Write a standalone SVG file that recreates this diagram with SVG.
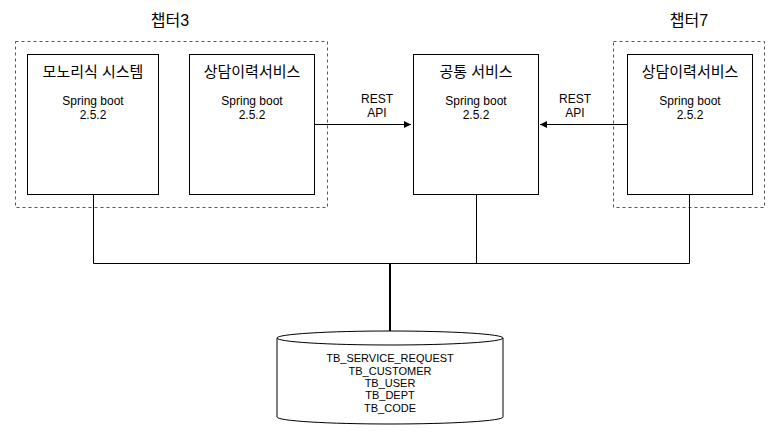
<svg xmlns="http://www.w3.org/2000/svg" width="780" height="446" viewBox="0 0 780 446">
<defs>
<marker id="arr" markerWidth="8" markerHeight="8" refX="7" refY="4" orient="auto" markerUnits="userSpaceOnUse"><path d="M0,0.5 L7,4 L0,7.5 Z" fill="#000"/></marker>
<style>
.grp{fill:none;stroke:#555;stroke-dasharray:3,3;stroke-width:1}
.box{fill:#fff;stroke:#000;stroke-width:1}
.title{font-family:"Liberation Sans","Noto Sans CJK KR",sans-serif;font-size:16px;fill:#000;text-anchor:middle}
.kr{font-family:"Liberation Sans","Noto Sans CJK KR",sans-serif;font-size:15px;fill:#000;text-anchor:middle}
.sm{font-family:"Liberation Sans","Noto Sans CJK KR",sans-serif;font-size:12px;fill:#000;text-anchor:middle}
.db{font-family:"Liberation Sans",sans-serif;font-size:11px;fill:#000;text-anchor:middle}
.ln{fill:none;stroke:#000;stroke-width:1}
</style>
</defs>
<rect width="780" height="446" fill="#fff"/>
<g id="chapter3">
<rect class="grp" x="15.5" y="41.5" width="312" height="166"/>
<text class="title" x="170" y="26">챕터3</text>
</g>
<g id="chapter7">
<rect class="grp" x="613.5" y="41.5" width="151" height="166"/>
<text class="title" x="689" y="26">챕터7</text>
</g>
<g id="connectors">
<path class="ln" d="M314,124.5 H411" marker-end="url(#arr)"/>
<path class="ln" d="M627,124.5 H540" marker-end="url(#arr)"/>
<path class="ln" d="M93.5,194 V263.5 H689.5 V194"/>
<path class="ln" d="M476.5,194 V263.5"/>
<path d="M390,263 V331" stroke="#000" stroke-width="2" fill="none"/>
<text class="sm" x="377" y="103">REST</text>
<text class="sm" x="377" y="117">API</text>
<text class="sm" x="575" y="103">REST</text>
<text class="sm" x="575" y="117">API</text>
</g>
<g id="monolith">
<rect class="box" x="27.5" y="54.5" width="131" height="140"/>
<text class="kr" x="93" y="77">모노리식 시스템</text>
<text class="sm" x="93" y="105">Spring boot</text>
<text class="sm" x="93" y="119">2.5.2</text>
</g>
<g id="history3">
<rect class="box" x="189.5" y="54.5" width="125" height="140"/>
<text class="kr" x="252" y="77">상담이력서비스</text>
<text class="sm" x="252" y="105">Spring boot</text>
<text class="sm" x="252" y="119">2.5.2</text>
</g>
<g id="common">
<rect class="box" x="413.5" y="54.5" width="125" height="140"/>
<text class="kr" x="476" y="77">공통 서비스</text>
<text class="sm" x="476" y="105">Spring boot</text>
<text class="sm" x="476" y="119">2.5.2</text>
</g>
<g id="history7">
<rect class="box" x="627.5" y="54.5" width="125" height="140"/>
<text class="kr" x="690" y="77">상담이력서비스</text>
<text class="sm" x="690" y="105">Spring boot</text>
<text class="sm" x="690" y="119">2.5.2</text>
</g>
<g id="database">
<path class="box" d="M277,338 A113,7 0 0 1 503,338 V417 A113,7 0 0 1 277,417 Z"/>
<path class="ln" d="M277,338 A113,7 0 0 0 503,338"/>
<text class="db" x="390" y="362">TB_SERVICE_REQUEST</text>
<text class="db" x="390" y="375">TB_CUSTOMER</text>
<text class="db" x="390" y="387">TB_USER</text>
<text class="db" x="390" y="399">TB_DEPT</text>
<text class="db" x="390" y="412">TB_CODE</text>
</g>
</svg>
